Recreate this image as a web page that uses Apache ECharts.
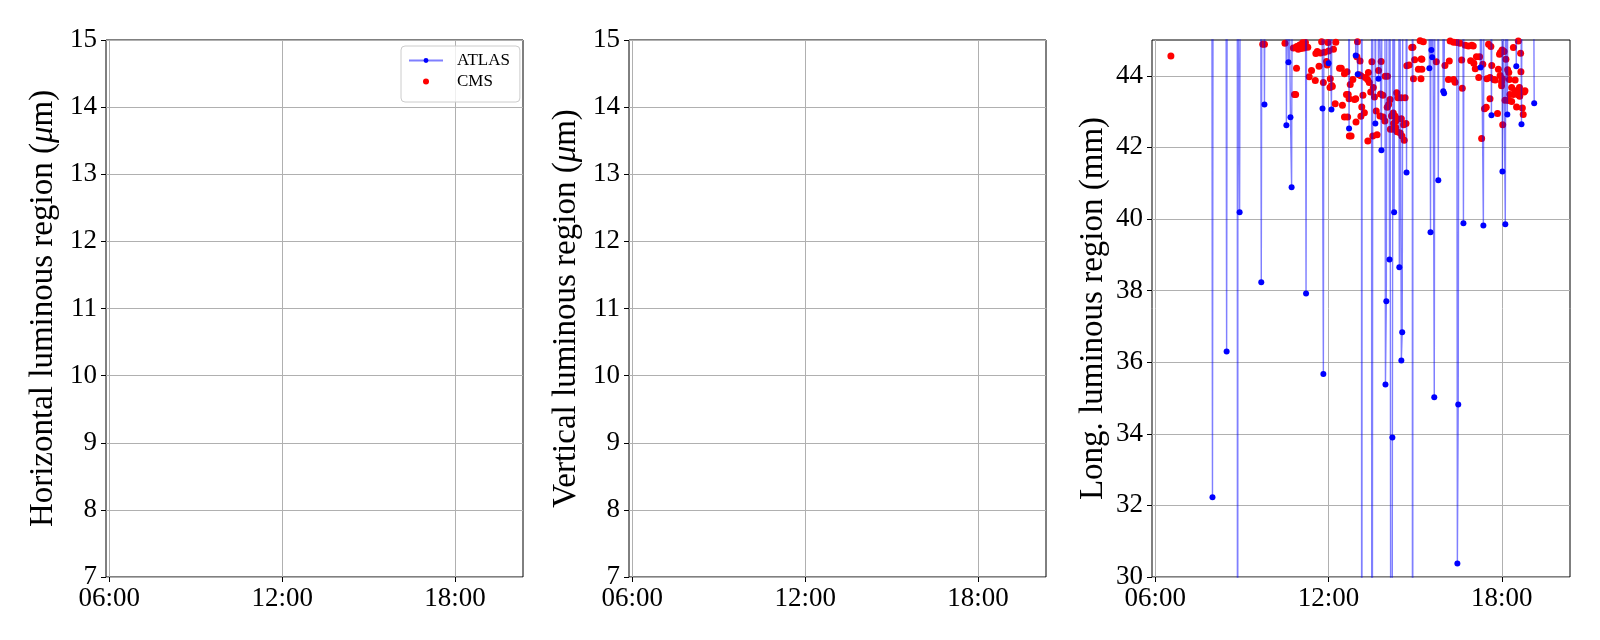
<!DOCTYPE html>
<html><head><meta charset="utf-8">
<script src="https://cdn.jsdelivr.net/npm/echarts@6/dist/echarts.min.js"></script>
<style>html,body{margin:0;padding:0;background:#fff}#c{width:1600px;height:640px}</style>
</head><body><div id="c"></div>
<script>
// ---- data (time in hours of day) ----
const xTickHours = [6, 12, 18];
const xTickLabels = ['06:00', '12:00', '18:00'];
const yTicksUm = [7, 8, 9, 10, 11, 12, 13, 14, 15];
const yTicksMm = [30, 32, 34, 36, 38, 40, 42, 44];

// ATLAS longitudinal luminous region (mm); values outside 30-45 are estimates
const atlasTime = [6.62,7.96,7.98,8.00,8.45,8.47,8.49,8.84,8.85,8.86,8.91,8.92,8.94,9.65,9.67,9.69,9.76,9.78,9.80,
  10.52,10.54,10.56,10.59,10.61,10.63,10.66,10.68,10.72,10.74,11.20,11.22,11.24,11.77,11.79,11.82,11.84,
  11.98,12.00,12.02,12.08,12.10,12.12,12.69,12.71,12.73,12.92,12.94,12.96,12.99,13.01,13.03,13.14,13.15,13.16,
  13.49,13.50,13.52,13.53,13.60,13.62,13.64,13.71,13.73,13.75,13.81,13.83,13.85,13.95,13.97,14.00,14.02,
  14.09,14.11,14.13,14.17,14.18,14.21,14.23,14.25,14.27,14.29,14.43,14.45,14.47,14.50,14.52,14.55,14.57,
  14.68,14.70,14.72,14.90,14.91,14.92,15.47,15.49,15.51,15.53,15.545,15.56,15.575,15.59,15.61,15.64,15.66,15.68,
  15.78,15.80,15.82,15.95,15.97,16.00,16.02,16.44,16.46,16.49,16.51,16.65,16.67,16.69,17.24,17.26,17.28,
  17.34,17.36,17.38,17.62,17.64,17.66,18.00,18.02,18.04,18.10,18.12,18.14,18.17,18.19,18.21,18.48,18.50,18.52,
  18.66,18.68,18.70,19.10,19.12];
const atlasLong = [47,47,32.23,47,47,36.30,47,47,0,47,47,40.19,47,47,38.23,47,47,43.20,47,
  47,42.62,47,47,44.38,47,47,42.84,40.89,47,47,37.92,47,47,43.09,35.67,47,
  47,44.35,47,47,43.06,47,47,42.53,47,47,44.57,47,47,44.04,47,47,0,47,
  47,0,0,47,47,42.67,47,47,43.92,47,47,41.92,47,47,35.38,37.70,47,
  47,38.87,47,47,0,33.90,47,47,40.19,47,47,38.65,47,47,36.05,36.84,47,
  47,41.30,47,47,0,47,47,44.21,47,39.63,47,44.72,47,44.52,47,47,35.02,47,
  47,41.08,47,47,43.57,43.51,47,47,30.38,34.82,47,47,39.88,47,47,44.23,47,
  47,39.82,47,47,42.90,47,47,41.33,47,47,39.85,47,47,42.92,47,47,44.27,47,
  47,42.65,47,47,43.23];

// CMS longitudinal luminous region (mm)
const cmsTime = [6.54,9.72,9.78,10.49,10.82,10.86,10.89,10.78,10.90,11.00,11.10,11.20,11.28,11.05,11.15,10.95,
  11.41,11.33,11.54,11.56,11.61,11.72,11.86,11.67,11.82,11.76,11.98,11.93,11.95,12.06,12.05,12.00,
  12.17,12.25,12.11,12.13,12.23,12.48,12.38,12.44,12.55,12.64,12.62,12.68,12.71,12.55,12.66,12.78,
  12.75,12.84,12.98,13.09,13.05,13.12,12.94,12.90,12.95,13.15,13.24,13.12,13.19,13.27,13.35,13.41,
  13.38,13.50,13.82,13.73,13.55,13.46,13.59,13.65,13.78,13.89,13.95,13.80,13.88,13.96,14.04,13.68,
  13.53,13.36,14.13,14.08,14.03,14.18,14.24,14.30,14.14,14.24,14.32,14.36,14.40,14.51,14.65,14.25,
  14.33,14.37,14.52,14.37,14.48,14.60,14.68,14.54,14.62,14.71,14.79,14.88,14.98,15.21,14.94,15.20,
  14.92,15.17,15.11,15.23,15.23,15.73,16.03,16.18,16.15,16.33,16.38,16.63,16.61,16.92,17.03,17.12,
  17.23,17.08,17.34,17.54,17.62,17.65,17.59,17.48,17.72,17.77,17.59,17.46,17.40,17.20,17.85,18.03,
  17.30,16.21,16.33,16.44,16.55,16.73,16.84,16.96,17.01,17.95,17.92,18.14,18.40,17.88,17.94,18.02,
  18.20,18.24,18.26,18.57,18.62,18.51,18.57,18.65,18.01,18.08,17.99,17.99,18.66,18.46,18.34,18.61,
  18.46,18.28,18.40,18.51,18.63,18.77,18.80,18.11,18.23,18.34,18.71,18.74,12.72,13.0,15.28];
const cmsLong = [44.55,44.88,44.88,44.91,43.48,43.48,44.21,44.78,44.82,44.86,44.92,44.93,44.80,44.76,44.78,44.74,
  44.15,43.97,43.87,44.62,44.68,44.64,44.66,44.27,43.81,44.95,44.93,44.40,44.30,43.92,43.67,44.69,
  44.74,44.94,43.73,43.70,43.22,43.18,44.21,44.21,44.06,44.11,43.48,43.48,43.36,42.85,42.85,42.32,
  43.76,43.90,44.53,44.41,44.03,44.00,43.36,43.34,42.71,43.13,42.97,42.87,43.46,43.95,43.90,43.81,
  44.09,44.39,44.40,44.15,43.67,43.55,43.41,43.02,42.88,42.85,42.74,43.49,43.46,43.99,43.99,42.35,
  42.32,42.18,43.34,43.20,43.12,42.88,42.96,42.88,42.51,42.51,42.56,43.53,43.39,43.39,43.39,42.67,
  42.74,42.80,42.80,42.44,42.40,42.63,42.67,42.32,42.20,44.28,44.30,44.79,44.45,44.47,43.92,43.92,
  44.80,44.98,44.18,44.46,44.18,44.39,44.29,44.41,43.90,43.90,43.82,43.65,44.44,44.42,44.35,44.53,
  44.53,44.20,44.32,44.88,44.82,44.29,43.95,43.92,43.90,43.88,43.36,43.12,43.08,43.95,42.95,42.63,
  42.25,44.97,44.94,44.93,44.91,44.85,44.83,44.85,44.83,44.65,44.60,44.46,44.79,44.18,44.01,43.92,
  44.17,44.09,43.90,43.47,43.43,43.13,44.97,44.63,44.72,44.68,43.83,43.72,44.11,43.88,43.67,43.67,
  43.58,43.48,43.48,43.51,43.55,43.55,43.58,43.32,43.31,43.28,43.10,42.92,42.32,44.95,44.95];

// ---- chart ----
const FONT = 'Liberation Serif';
const xMin = 5.886, xMax = 20.36;
const pad2 = n => (n < 10 ? '0' : '') + n;
const fmtHour = v => { const i = xTickHours.indexOf(v); return i >= 0 ? xTickLabels[i] : pad2(Math.floor(v)) + ':00'; };

const grids = [
  { left: 106, top: 40, width: 417, height: 537 },
  { left: 629, top: 40, width: 417, height: 537 },
  { left: 1152, top: 40, width: 418, height: 537 }
].map(g => Object.assign(g, { show: true, borderColor: '#000', borderWidth: 1, backgroundColor: 'transparent' }));

function xAxis(i) {
  return {
    type: 'value', gridIndex: i, min: xMin, max: xMax,
    axisLine: { show: false },
    axisTick: { show: true, inside: false, length: 5, lineStyle: { color: '#000', width: 1 }, customValues: xTickHours },
    axisLabel: { show: true, customValues: xTickHours, formatter: fmtHour, fontFamily: FONT, fontSize: 27, color: '#000', margin: 8 },
    splitLine: { show: true, lineStyle: { color: '#b0b0b0', width: 1 } }
  };
}
function yAxis(i, min, max, ticks, name, gap) {
  return {
    type: 'value', gridIndex: i, min: min, max: max,
    name: name, nameLocation: 'middle', nameGap: gap, nameRotate: 90,
    nameTextStyle: { fontFamily: FONT, fontSize: 33, color: '#000',
      rich: { it: { fontFamily: FONT, fontSize: 33, fontStyle: 'italic', color: '#000' } } },
    axisLine: { show: false },
    axisTick: { show: true, inside: false, length: 5, lineStyle: { color: '#000', width: 1 }, customValues: ticks },
    axisLabel: { show: true, customValues: ticks, fontFamily: FONT, fontSize: 27, color: '#000', margin: 9 },
    splitLine: { show: true, lineStyle: { color: '#b0b0b0', width: 1 } }
  };
}

const atlasData = atlasTime.map((t, i) => [t, atlasLong[i]]);
const cmsData = cmsTime.map((t, i) => [t, cmsLong[i]]);

const option = {
  animation: false,
  backgroundColor: '#fff',
  grid: grids,
  xAxis: [xAxis(0), xAxis(1), xAxis(2)],
  yAxis: [
    yAxis(0, 7, 15, yTicksUm, 'Horizontal luminous region ({it|μ}m)', 46),
    yAxis(1, 7, 15, yTicksUm, 'Vertical luminous region ({it|μ}m)', 46),
    yAxis(2, 30, 45, yTicksMm, 'Long. luminous region (mm)', 42)
  ],
  legend: {
    data: ['ATLAS', 'CMS'], orient: 'vertical', left: 401, top: 46,
    itemWidth: 34, itemHeight: 6, itemGap: 4,
    padding: [6, 10, 12, 7],
    backgroundColor: 'rgba(255,255,255,0.8)', borderColor: '#cccccc', borderWidth: 1, borderRadius: 4,
    textStyle: { fontFamily: FONT, fontSize: 17, color: '#000', padding: [0, 0, 0, 9] }
  },
  series: [
    {
      name: 'ATLAS', type: 'line', xAxisIndex: 2, yAxisIndex: 2, data: atlasData,
      symbol: 'circle', symbolSize: 6, showSymbol: true, showAllSymbol: true, clip: true,
      itemStyle: { color: '#0000ff' },
      lineStyle: { color: 'rgba(0,0,255,0.5)', width: 1.4 },
      emphasis: { disabled: true }
    },
    {
      name: 'CMS', type: 'scatter', xAxisIndex: 2, yAxisIndex: 2, data: cmsData,
      symbol: 'circle', symbolSize: 7, clip: true,
      itemStyle: { color: '#ff0000', opacity: 1 },
      emphasis: { disabled: true }
    }
  ]
};
const chart = echarts.init(document.getElementById('c'), null, { renderer: 'canvas' });
chart.setOption(option);
</script></body></html>
